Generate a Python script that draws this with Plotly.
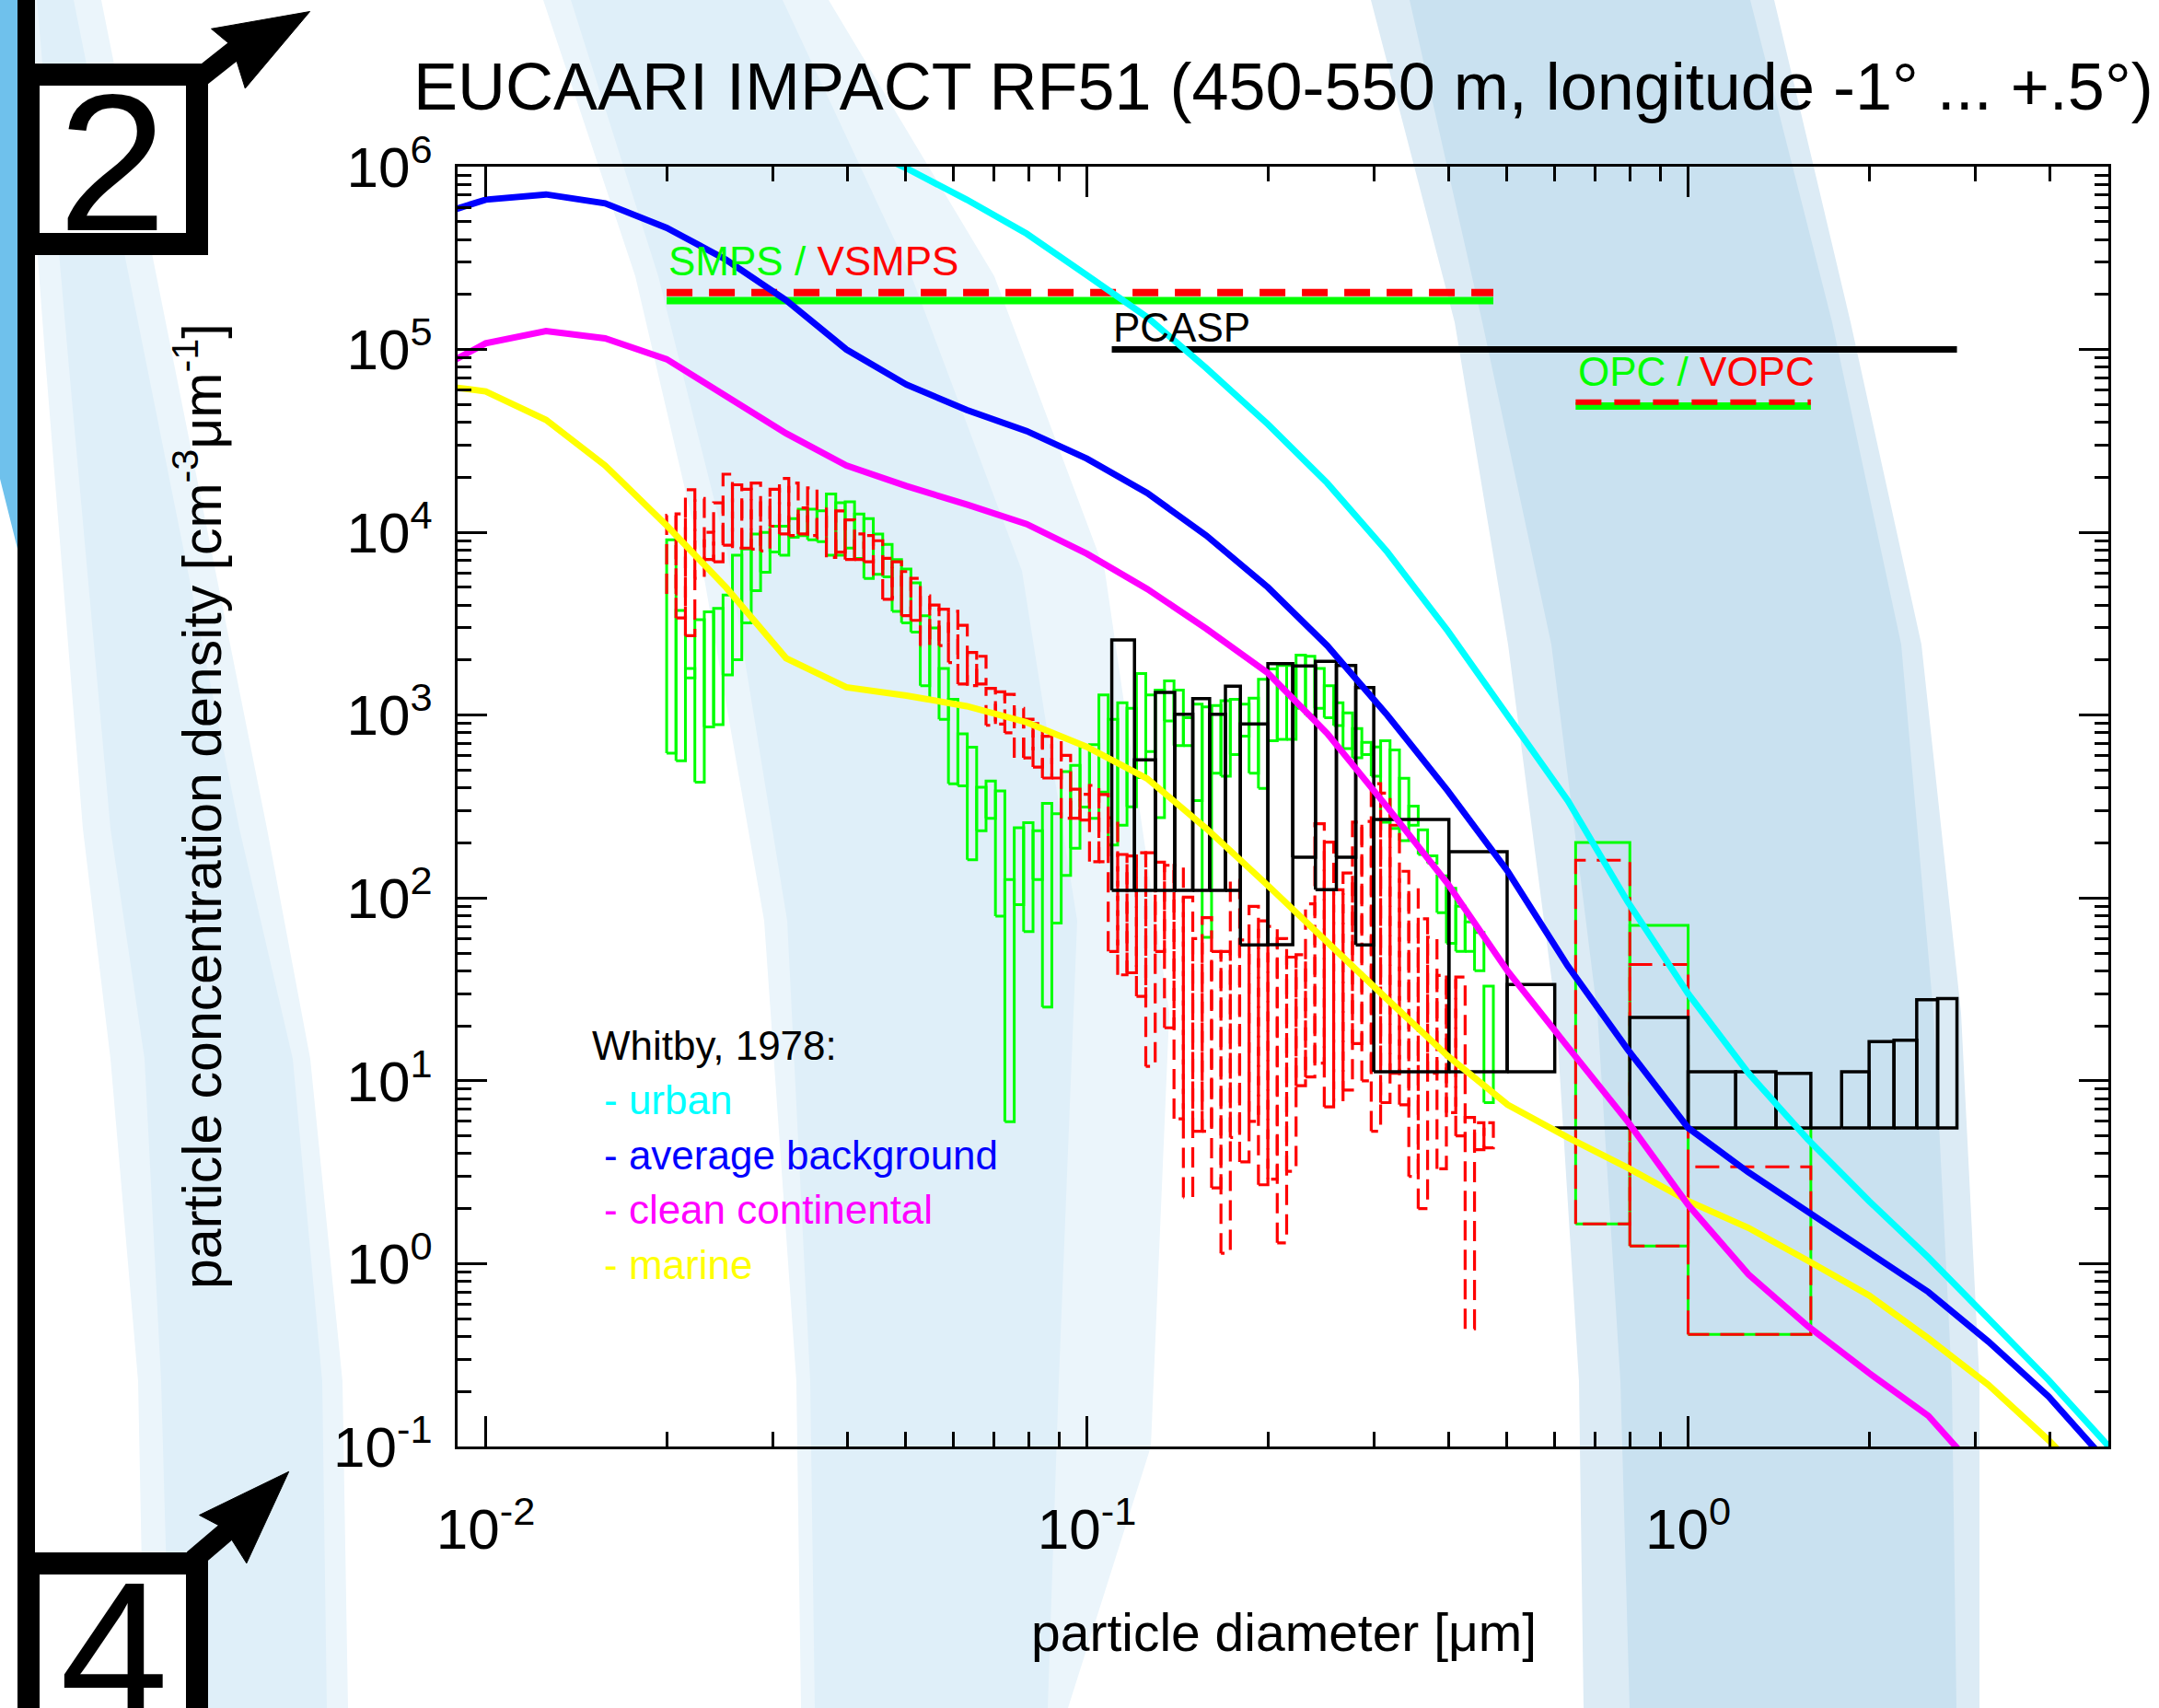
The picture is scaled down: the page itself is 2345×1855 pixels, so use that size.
import math
import plotly.graph_objects as go

FONT = "Liberation Sans, Arial, sans-serif"

# ---------------- data ----------------
# Whitby (1978) model size distributions, sampled 10 per decade [um] / [cm-3 um-1]
whitby_d = [0.00794, 0.0100, 0.0126, 0.0158, 0.0200, 0.0251, 0.0316, 0.0398, 0.0501, 0.0631,
            0.0794, 0.100, 0.126, 0.158, 0.200, 0.251, 0.316, 0.398, 0.501, 0.631,
            0.794, 1.00, 1.26, 1.58, 2.00, 2.51, 3.16, 3.98, 5.01]
urban = [None, None, None, None, None, None, None,
         1.4e6, 9.8e5, 6.6e5, 4.3e5, 2.55e5, 1.5e5, 7.9e4, 3.9e4, 1.86e4, 7.8e3, 2.9e3,
         1.0e3, 340, 95, 30, 11, 4.8, 2.2, 1.08, 0.50, 0.23, 0.10]
average_background = [5.19e5, 6.6e5, 7.05e5, 6.3e5, 4.63e5, 3.1e5, 1.86e5, 1.0e5, 6.43e4, 4.67e4,
                      3.58e4, 2.53e4, 1.64e4, 9.6e3, 5.0e3, 2.4e3, 1.0e3, 387, 140, 42.4,
                      14.8, 5.53, 3.16, 1.93, 1.14, 0.70, 0.374, 0.187, 0.08]
clean_continental = [7.2e4, 1.08e5, 1.26e5, 1.15e5, 8.85e4, 5.62e4, 3.48e4, 2.32e4, 1.79e4, 1.42e4,
                     1.11e4, 7.64e3, 4.9e3, 2.97e3, 1.7e3, 794, 314, 120, 39.8, 15.3,
                     5.97, 2.1, 0.873, 0.456, 0.252, 0.147, 0.063, 0.03, 0.014]
marine = [6.5e4, 5.9e4, 4.12e4, 2.32e4, 1.09e4, 5.0e3, 2.05e3, 1.42e3, 1.28e3, 1.12e3,
          914, 670, 450, 240, 117, 57, 27.9, 13.7, 7.4, 4.9,
          3.34, 2.2, 1.57, 1.04, 0.67, 0.39, 0.217, 0.108, 0.05]

# SMPS / VSMPS channels [um] (64 per decade) with min / max concentration per channel
smps_edges = [0.02000, 0.02073, 0.02149, 0.02228, 0.02310, 0.02394, 0.02482, 0.02573, 0.02667, 0.02765,
              0.02866, 0.02971, 0.03080, 0.03193, 0.03310, 0.03431, 0.03557, 0.03687, 0.03822, 0.03962,
              0.04107, 0.04257, 0.04413, 0.04575, 0.04743, 0.04917, 0.05097, 0.05283, 0.05477, 0.05677,
              0.05885, 0.06101, 0.06325, 0.06556, 0.06796, 0.07045, 0.07303, 0.07571, 0.07848, 0.08136,
              0.08434, 0.08743, 0.09063, 0.09395, 0.09739, 0.1010, 0.1047, 0.1085, 0.1125, 0.1166,
              0.1209, 0.1253, 0.1299, 0.1346, 0.1396, 0.1447, 0.1500, 0.1555, 0.1612, 0.1671,
              0.1732, 0.1795, 0.1861, 0.1929, 0.2000, 0.2073, 0.2149, 0.2228, 0.2310, 0.2394,
              0.2482, 0.2573, 0.2667, 0.2765, 0.2866, 0.2971, 0.3080, 0.3193, 0.3310, 0.3431,
              0.3557, 0.3687, 0.3822, 0.3962, 0.4107, 0.4257, 0.4413, 0.4575, 0.4743]
smps_high = [9100, 3740, 1800, 3330, 3670, 3840, 4540, 7500, 8100, 9800,
             10000, 10800, 10800, 11900, 13400, 13400, 13100, 16200, 14500, 14700,
             12600, 11900, 9800, 8600, 7100, 6300, 5300, 3500, 3000, 1800,
             1220, 790, 668, 403, 436, 385, 126, 242, 258, 233,
             329, 289, 492, 532, 668, 690, 1290, 948, 1170, 1090,
             1690, 1290, 1370, 1540, 1370, 967, 1150, 1110, 1130, 1200,
             1220, 1150, 1240, 1570, 1790, 1870, 1870, 2130, 2100, 1800,
             1450, 1170, 1030, 845, 710, 670, 724, 645, 452, 318,
             236, 170, 132, 113, 90, 74, 64.7, 33]
smps_low = [620, 563, 1600, 430, 861, 888, 1660, 2010, 3200, 4800,
            6050, 7800, 7500, 9400, 9600, 9100, 8900, 7500, 7500, 8200,
            7200, 5600, 5900, 5700, 3700, 3200, 2850, 1450, 1200, 950,
            421, 410, 162, 233, 273, 79.5, 5.97, 92, 65.5, 126,
            25.3, 73, 133, 187, 314, 273, 380, 195, 250, 315,
            455, 632, 275, 931, 682, 682, 341, 61, 482, 464,
            608, 767, 482, 398, 724, 738, 738, 1090, 1000, 1090,
            967, 877, 657, 585, 608, 464, 260, 240, 206, 250,
            173, 155, 83, 56.5, 51, 51, 40, 7.6]
vsmps_high = [12400, 12600, 17100, 15300, 10000, 14500, 20800, 18200, 17200, 18600,
              15000, 17200, 19700, 18600, 13600, 17500, 12100, 13400, 13100, 11700,
              9800, 9600, 9000, 7200, 6900, 6100, 5600, 4500, 4000, 3800,
              3700, 3100, 2200, 2100, 1400, 1340, 1300, 1090, 950, 900,
              767, 780, 603, 394, 369, 413, 368, 275, 173, 170,
              177, 177, 157, 151, 151, 101, 60, 78, 51, 51,
              125, 59, 90, 75, 70, 60, 47.5, 49, 93, 255,
              202, 111, 137, 260, 262, 422, 375, 250, 140, 111,
              77, 61, 37.7, 37, 37, 6.3, 5.9, 5.9]
vsmps_low = [4600, 3400, 2720, 5600, 7100, 6900, 8500, 8200, 8200, 8100,
             7900, 10800, 9800, 9600, 9800, 9600, 9300, 7300, 7800, 7100,
             7100, 6900, 5800, 4300, 4400, 3500, 3300, 2400, 2600, 2400,
             1940, 1480, 1450, 1480, 880, 895, 800, 584, 584, 520,
             453, 453, 273, 273, 267, 158, 158, 51, 38, 39,
             29, 12, 51, 19.5, 6.2, 2.3, 5.3, 5.3, 2.6, 1.14,
             4.9, 3.6, 6.0, 2.7, 2.9, 1.3, 3.2, 9.4, 10.5, 12.5,
             7.2, 7.7, 8.9, 16, 10, 5.3, 7.6, 11, 7.4, 3.0,
             2.0, 11, 3.3, 6.7, 5, 0.44, 4.2, 4.3]

# PCASP channels [um]
pcasp_edges = [0.11, 0.12, 0.13, 0.14, 0.15, 0.16, 0.17, 0.18, 0.20, 0.22, 0.24, 0.26, 0.28, 0.30,
               0.40, 0.50, 0.60, 0.80, 1.0, 1.2, 1.4, 1.6, 1.8, 2.0, 2.2, 2.4, 2.6, 2.8]
pcasp_high = [2576, 569, 1330, 1012, 1233, 1012, 1439, 895, 1915, 1857, 1967, 1870, 1414,
              269, 179, 33.6, 5.53, 22.2, 11.2, 11.2, 11.0, 5.53, 11.2, 16.4, 16.7, 27.8, 28.2]
pcasp_low = [110, 110, 110, 110, 110, 110, 110, 55.4, 55.6, 167, 111, 167, 55.4,
             11.2, 11.2, 11.2, 5.53, 5.53, 5.53, 5.53, 5.53, 5.53, 5.53, 5.53, 5.53, 5.53, 5.53]

# OPC / VOPC channels [um]
opc_edges = [0.65, 0.80, 1.0, 1.6]
opc_high = [201, 70.8, 5.5]
opc_low = [1.65, 1.25, 0.41]
vopc_high = [161, 43.3, 3.39]
vopc_low = [1.65, 1.25, 0.41]

# instrument size-range markers: y level of the range bar
smps_bar, vsmps_bar = 1.85e5, 2.05e5
pcasp_bar = 1.0e5
opc_bar, vopc_bar = 4.9e4, 5.15e4

x_tick_vals = [0.01, 0.1, 1]
x_tick_text = ["10<sup>-2</sup>", "10<sup>-1</sup>", "10<sup>0</sup>"]
y_tick_vals = [0.1, 1, 10, 100, 1e3, 1e4, 1e5, 1e6]
y_tick_text = ["10<sup>-1</sup>", "10<sup>0</sup>", "10<sup>1</sup>", "10<sup>2</sup>",
               "10<sup>3</sup>", "10<sup>4</sup>", "10<sup>5</sup>", "10<sup>6</sup>"]
x_minor_vals = [0.02, 0.03, 0.04, 0.05, 0.06, 0.07, 0.08, 0.09,
                0.2, 0.3, 0.4, 0.5, 0.6, 0.7, 0.8, 0.9, 2, 3, 4]
y_minor_vals = [m * 10.0 ** e for e in range(-1, 6) for m in range(2, 10)]

GREEN, RED, BLUE, CYAN, MAGENTA, YELLOW = "#00ff00", "#ff0000", "#0000ff", "#00ffff", "#ff00ff", "#ffff00"

# ---------------- figure geometry ----------------
WIDTH, HEIGHT = 2345, 1855
L, R, T, B = 497, 2290, 181, 1571
PW, PH = R - L, B - T


def px(X):
    return (X - L) / PW


def py(Y):
    return (B - Y) / PH


def poly(pts):
    return "M " + " L ".join(f"{px(x):.5f},{py(y):.5f}" for x, y in pts) + " Z"


def band(left, right):
    return poly(left + right[::-1])


def boxes(edges, lo, hi):
    xs, ys = [], []
    for i in range(len(lo)):
        x0, x1 = edges[i], edges[i + 1]
        xs += [x0, x0, x1, x1, x0, None]
        ys += [lo[i], hi[i], hi[i], lo[i], lo[i], None]
    return xs, ys


fig = go.Figure()


def add_line(x, y, color, width, dash="solid"):
    fig.add_trace(go.Scatter(x=x, y=y, mode="lines", connectgaps=False,
                             line=dict(color=color, width=width, dash=dash),
                             hoverinfo="skip", showlegend=False))


gx, gy = boxes(smps_edges, smps_low, smps_high)
add_line(gx, gy, GREEN, 3)
rx, ry = boxes(smps_edges, vsmps_low, vsmps_high)
add_line(rx, ry, RED, 3.2, "22px,10px")
ox, oy = boxes(opc_edges, opc_low, opc_high)
add_line(ox, oy, GREEN, 3)
vx, vy = boxes(opc_edges, vopc_low, vopc_high)
add_line(vx, vy, RED, 3, "26px,12px")
bx, by = boxes(pcasp_edges, pcasp_low, pcasp_high)
add_line(bx, by, "black", 3.5)

# instrument ranges
add_line([smps_edges[0], smps_edges[-1]], [smps_bar, smps_bar], GREEN, 8)
add_line([smps_edges[0], smps_edges[-1]], [vsmps_bar, vsmps_bar], RED, 8, "28px,18px")
add_line([pcasp_edges[0], pcasp_edges[-1]], [pcasp_bar, pcasp_bar], "black", 7)
add_line([opc_edges[0], opc_edges[-1]], [opc_bar, opc_bar], GREEN, 8)
add_line([opc_edges[0], opc_edges[-1]], [vopc_bar, vopc_bar], RED, 6, "28px,14px")

# Whitby curves
add_line(whitby_d, marine, YELLOW, 7)
add_line(whitby_d, clean_continental, MAGENTA, 7)
add_line(whitby_d, average_background, BLUE, 7)
add_line(whitby_d, urban, CYAN, 7)

# ---------------- decorative background ----------------
shapes = []
LIGHT1 = "#ebf5fb"
LIGHT2 = "#dfeff9"
DARK1 = "#dcebf5"
DARK2 = "#c9e1f0"


def add_band(left, right, color):
    shapes.append(dict(type="path", xref="paper", yref="paper", path=band(left, right),
                       fillcolor=color, line=dict(width=0), layer="below"))


# left arc
add_band([(20, 0), (50, 400), (90, 900), (120, 1150), (150, 1500), (157, 1855)],
         [(110, 0), (190, 400), (290, 900), (337, 1150), (372, 1500), (378, 1855)], LIGHT1)
add_band([(40, 0), (75, 400), (120, 900), (157, 1150), (175, 1500), (185, 1855)],
         [(80, 0), (160, 400), (260, 900), (318, 1150), (350, 1500), (355, 1855)], LIGHT2)
# middle arc
add_band([(590, 0), (690, 300), (760, 600), (830, 1000), (865, 1500), (870, 1855)],
         [(900, 0), (1080, 300), (1200, 620), (1270, 1100), (1250, 1571), (1160, 1855)], LIGHT1)
add_band([(620, 0), (715, 300), (790, 600), (855, 1000), (880, 1500), (885, 1855)],
         [(850, 0), (990, 300), (1110, 620), (1170, 1000), (1150, 1500), (1138, 1855)], LIGHT2)
# right arc
add_band([(1489, 0), (1580, 350), (1638, 700), (1690, 1100), (1715, 1500), (1720, 1855)],
         [(1927, 0), (2010, 350), (2087, 700), (2130, 1100), (2150, 1500), (2150, 1855)], DARK1)
add_band([(1531, 0), (1610, 350), (1685, 700), (1735, 1100), (1760, 1500), (1770, 1855)],
         [(1901, 0), (1990, 350), (2065, 700), (2100, 1100), (2120, 1500), (2125, 1855)], DARK2)
# strong blue strip at far left
shapes.append(dict(type="path", xref="paper", yref="paper",
                   path=poly([(0, 0), (20, 0), (20, 600), (0, 520)]),
                   fillcolor="#6fc1ec", line=dict(width=0), layer="below"))
# black vertical bar
shapes.append(dict(type="rect", xref="paper", yref="paper", x0=px(19), x1=px(38), y0=py(1855), y1=py(0),
                   fillcolor="black", line=dict(width=0), layer="above"))
# boxes around the numbers
shapes.append(dict(type="rect", xref="paper", yref="paper", x0=px(31), x1=px(214), y0=py(265), y1=py(81),
                   fillcolor="white", line=dict(color="black", width=24), layer="above"))
shapes.append(dict(type="rect", xref="paper", yref="paper", x0=px(31), x1=px(214), y0=py(1900), y1=py(1698),
                   fillcolor="white", line=dict(color="black", width=24), layer="above"))
# arrows
shapes.append(dict(type="line", xref="paper", yref="paper", x0=px(210), y0=py(90), x1=px(258), y1=py(52),
                   line=dict(color="black", width=22), layer="above"))
shapes.append(dict(type="path", xref="paper", yref="paper",
                   path=poly([(336.6, 12.5), (229.5, 31.3), (252, 50), (266.3, 96)]),
                   fillcolor="black", line=dict(color="black", width=1), layer="above"))
shapes.append(dict(type="line", xref="paper", yref="paper", x0=px(210), y0=py(1694), x1=px(250), y1=py(1660),
                   line=dict(color="black", width=22), layer="above"))
shapes.append(dict(type="path", xref="paper", yref="paper",
                   path=poly([(313.7, 1598.3), (216.5, 1645.5), (244, 1660), (267.8, 1697.8)]),
                   fillcolor="black", line=dict(color="black", width=1), layer="above"))

# ---------------- annotations ----------------
ann = []


def text(X, Y, s, size, color="black", xanchor="left", angle=0):
    ann.append(dict(xref="paper", yref="paper", x=px(X), y=py(Y), text=s, showarrow=False,
                    xanchor=xanchor, yanchor="middle", textangle=angle,
                    font=dict(family=FONT, size=size, color=color)))


text(1393.5, 94, "EUCAARI IMPACT RF51 (450-550 m, longitude -1° ... +.5°)", 72, xanchor="center")
text(1394, 1773, "particle diameter [μm]", 57, xanchor="center")
text(215, 876, "particle concentration density [cm<sup>-3</sup>μm<sup>-1</sup>]", 59, xanchor="center", angle=-90)
text(724, 284, f"<span style='color:{GREEN}'>SMPS / </span><span style='color:{RED}'>VSMPS</span>", 44)
text(1207, 355, "PCASP", 44)
text(1712, 403, f"<span style='color:{GREEN}'>OPC / </span><span style='color:{RED}'>VOPC</span>", 44)
text(641, 1135, "Whitby, 1978:", 44)
text(654, 1194, "- urban", 44, CYAN)
text(654, 1254, "- average background", 44, BLUE)
text(654, 1313, "- clean continental", 44, MAGENTA)
text(654, 1373, "- marine", 44, YELLOW)
text(122, 176, "2", 212, xanchor="center")
text(124, 1792, "4", 212, xanchor="center")

fig.update_layout(
    width=WIDTH, height=HEIGHT, autosize=False,
    margin=dict(l=L, r=WIDTH - R, t=T, b=HEIGHT - B, pad=0),
    paper_bgcolor="white", plot_bgcolor="rgba(0,0,0,0)",
    showlegend=False, shapes=shapes, annotations=ann,
    font=dict(family=FONT, size=57, color="black"),
)
axis_common = dict(type="log", ticks="inside", tickcolor="black", tickwidth=3,
                   showline=True, linewidth=3, linecolor="black", mirror="ticks",
                   showgrid=False, zeroline=False, tickfont=dict(family=FONT, size=62, color="black"))
fig.update_xaxes(range=[math.log10(0.00898), math.log10(5.0)], tickmode="array",
                 tickvals=x_tick_vals, ticktext=x_tick_text, ticklen=33, ticklabelstandoff=34,
                 minor=dict(ticks="inside", ticklen=16, tickwidth=2.5, tickcolor="black",
                            tickmode="array", tickvals=x_minor_vals, showgrid=False),
                 **axis_common)
fig.update_yaxes(range=[-1, 6], tickmode="array", tickvals=y_tick_vals, ticktext=y_tick_text,
                 ticklen=32, ticklabelstandoff=12,
                 minor=dict(ticks="inside", ticklen=15, tickwidth=2.5, tickcolor="black",
                            tickmode="array", tickvals=y_minor_vals, showgrid=False),
                 **axis_common)

fig.write_html("out.html")
